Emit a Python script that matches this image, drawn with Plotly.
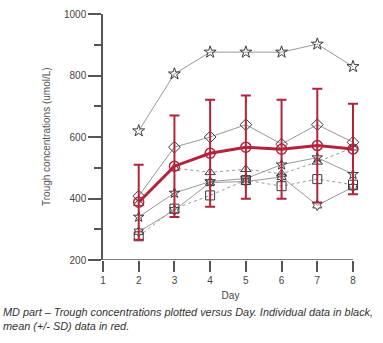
import plotly.graph_objects as go

# Trough concentrations (umol/L) by study day
days = [2, 3, 4, 5, 6, 7, 8]

subj_a = [620, 805, 876, 876, 876, 902, 829]
subj_b = [408, 567, 600, 640, 577, 640, 583]
subj_c = [385, 499, 485, 495, 480, 519, 565]
subj_d = [340, 418, 455, 465, 510, 533, 479]
subj_e = [277, 367, 410, 460, 440, 463, 445]
subj_f = [292, 362, 452, 455, 470, 378, 437]

mean_vals = [388, 505, 547, 567, 560, 572, 561]
sd_vals = [122, 165, 174, 168, 161, 185, 147]

x_ticks = [1, 2, 3, 4, 5, 6, 7, 8]
y_major = [200, 400, 600, 800, 1000]
y_minor = [300, 500, 700, 900]

RED = "#b3243a"
GREY_LINE = "#8c8c8c"
MARK = "#3a3a3a"
AXIS = "#555555"

subjects = [
    (subj_a, "star-open", "solid", 9),
    (subj_b, "diamond-open", "solid", 9),
    (subj_c, "triangle-up-open", "dot", 9),
    (subj_d, "star-open", "solid", 8),
    (subj_e, "square-open", "dot", 9),
    (subj_f, "hexagram-open", "solid", 8),
]

fig = go.Figure()

for vals, sym, dash, size in subjects:
    fig.add_trace(go.Scatter(
        x=days, y=vals, mode="lines+markers", cliponaxis=False,
        line=dict(color=GREY_LINE, width=0.9, dash=dash),
        marker=dict(symbol=sym, size=size, color=MARK, line=dict(color=MARK, width=1)),
        showlegend=False, hoverinfo="skip",
    ))

fig.add_trace(go.Scatter(
    x=days, y=mean_vals, mode="lines+markers", cliponaxis=False,
    line=dict(color=RED, width=3),
    marker=dict(symbol="circle-open", size=10, color=RED, line=dict(color=RED, width=1.5)),
    error_y=dict(type="data", array=sd_vals, visible=True, color=RED, thickness=2, width=5),
    showlegend=False,
))

# x axis baseline drawn only from day 1 to day 8 (range leaves room for the last cap)
fig.add_shape(type="line", xref="x", yref="y", x0=x_ticks[0], x1=x_ticks[-1],
              y0=y_major[0], y1=y_major[0], line=dict(color=AXIS, width=1.5), layer="above")

fig.update_layout(
    width=383, height=343,
    margin=dict(l=103, r=25, t=8, b=83),
    paper_bgcolor="white", plot_bgcolor="white",
    font=dict(family="Liberation Sans, Arial, sans-serif", color="#444444", size=10),
    xaxis=dict(
        range=[1, 8.14], tickvals=x_ticks, ticks="outside", ticklen=11, tickwidth=1.5,
        tickcolor=AXIS, showline=False,
        showgrid=False, zeroline=False, tickfont=dict(size=10, color="#444444"),
        title=dict(text="Day", font=dict(size=10, color="#444444"), standoff=6),
    ),
    yaxis=dict(
        range=[200, 1000], tickvals=y_major, ticks="outside", ticklen=13, tickwidth=1.5,
        tickcolor=AXIS, showline=True, linecolor=AXIS, linewidth=1.5,
        showgrid=False, zeroline=False, tickfont=dict(size=10, color="#444444"),
        minor=dict(tickvals=y_minor, ticks="outside", ticklen=7, tickwidth=1.5, tickcolor=AXIS),
    ),
    annotations=[
        dict(text="Trough concentrations (umol/L)", textangle=-90,
             xref="paper", yref="paper", x=(46 - 103) / 255, y=0.5,
             xanchor="center", yanchor="middle", showarrow=False,
             font=dict(size=10, color="#555555")),
        dict(text="<i>MD part – Trough concentrations plotted versus Day. Individual data in black,<br>"
                  "mean (+/- SD) data in red.</i>",
             xref="paper", yref="paper", x=(1 - 103) / 255, y=(260 - 305) / 252,
             xanchor="left", yanchor="top", align="left", showarrow=False,
             font=dict(size=10.9, color="#333333")),
    ],
)

fig.write_html("out.html")
